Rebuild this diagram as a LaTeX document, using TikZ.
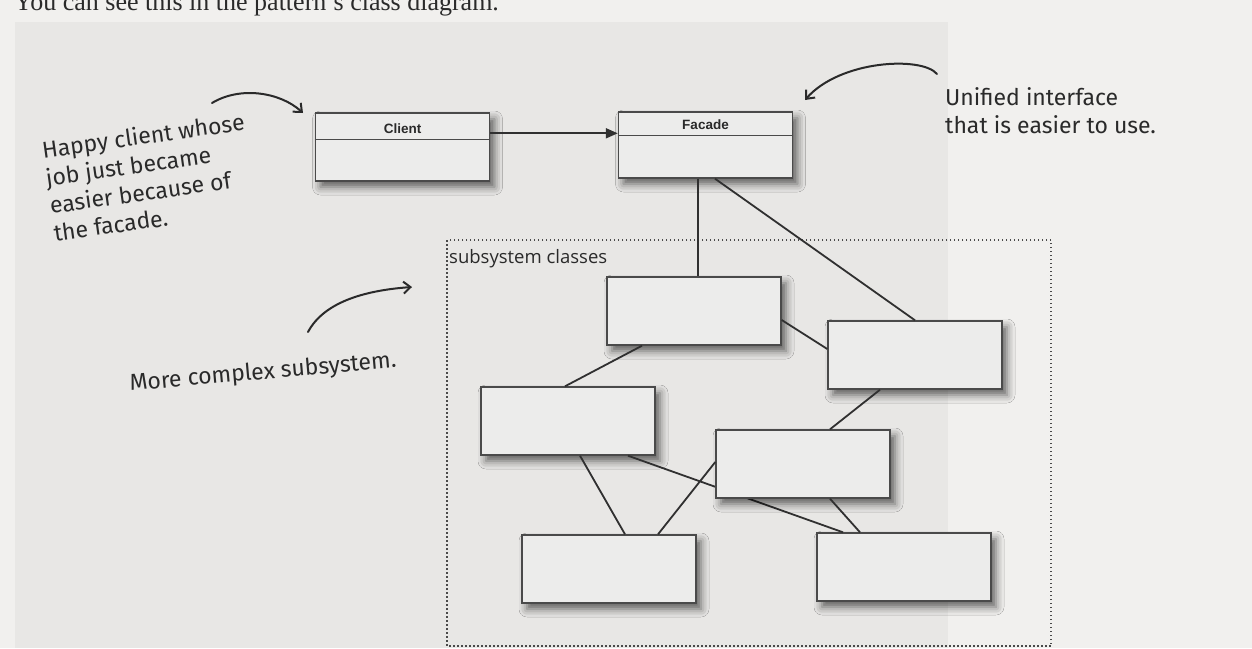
\documentclass[tikz,border=0pt]{standalone}
\usepackage{fontspec}
\setmainfont{Liberation Serif}
\newfontfamily\hand{Fira Sans}
\newfontfamily\umlsans{Liberation Sans}
\newfontfamily\subsans{Open Sans}
\usetikzlibrary{arrows.meta,shadows.blur,calc}
\definecolor{page}{HTML}{F1F0EE}
\definecolor{panel}{HTML}{E8E7E5}
\definecolor{boxfill}{HTML}{ECECEB}
\definecolor{boxline}{HTML}{4A4A4A}
\definecolor{connc}{HTML}{303030}
\definecolor{ink}{HTML}{2A2A2A}
\begin{document}
\begin{tikzpicture}[x=1pt,y=-1pt,
  classbox/.style={draw=boxline, line width=1.4pt, fill=boxfill, minimum width=174pt, minimum height=68pt, inner sep=0pt,
    blur shadow={shadow xshift=5pt, shadow yshift=-6pt, shadow blur radius=8pt, shadow opacity=60}},
  classname/.style={font=\umlsans\bfseries\fontsize{13.5}{15}\selectfont, text=ink, inner sep=0pt},
  conn/.style={draw=connc, line width=1.8pt},
  note/.style={font=\hand\fontsize{23}{28}\selectfont, text=ink, align=left, inner sep=0pt},
  notearrow/.style={draw=ink, line width=2pt, line cap=round, -{Straight Barb[length=7pt,width=12pt,line width=2pt]}}
]
\useasboundingbox (0,0) rectangle (1252,648);
\fill[page] (0,0) rectangle (1252,648);
\fill[panel] (15,22) rectangle (948,648);
\begin{scope}
  \clip (0,0) rectangle (1252,648);
  \node[anchor=base west, inner sep=0pt, font=\fontsize{26}{28}\selectfont, text=ink] (topline) at (14,10) {You can see this in the pattern's class diagram.};
\end{scope}
\draw[boxline, line width=1.3pt, dash pattern=on 1.5pt off 2.5pt] (447,240) rectangle (1051,646);
\node[anchor=base west, inner sep=0pt, font=\subsans\fontsize{18.5}{20}\selectfont, text=ink] (subtitle) at (449,263) {subsystem classes};

% class boxes
\node[classbox] (client) at (402.5,147) {};
\draw[boxline, line width=1.4pt] ([yshift=-27pt]client.north west) -- ([yshift=-27pt]client.north east);
\node[classname] (clientname) at ([yshift=-16pt]client.north) {Client};

\node[classbox, minimum height=66pt] (facade) at (705.5,145) {};
\draw[boxline, line width=1.4pt] ([yshift=-24pt]facade.north west) -- ([yshift=-24pt]facade.north east);
\node[classname] (facadename) at ([yshift=-13pt]facade.north) {Facade};

\draw[connc, line width=1.8pt, -{Triangle[length=12pt,width=10pt]}] ([yshift=-21pt]client.north east) -- ([yshift=-22pt]facade.north west);

% subsystem boxes
\node[classbox] (A) at (694,311) {};
\node[classbox] (B) at (915,355) {};
\node[classbox] (C) at (568,421) {};
\node[classbox] (E) at (609,569) {};
\node[classbox] (F) at (904,567) {};
% this connector passes behind D
\draw[conn] ([xshift=60pt]C.south) -- ([xshift=-61pt]F.north);
\node[classbox] (D) at (803,464) {};

\draw[conn] ([xshift=-7.5pt]facade.south) -- ([xshift=4pt]A.north);
\draw[conn] ([xshift=9.5pt]facade.south) -- (B.north);
\draw[conn] ([yshift=-9pt]A.east) -- ([yshift=6pt]B.west);
\draw[conn] ([xshift=-52pt]A.south) -- ([xshift=-3pt]C.north);
\draw[conn] ([xshift=-35pt]B.south) -- ([xshift=27pt]D.north);
\draw[conn] ([xshift=12pt]C.south) -- ([xshift=16pt]E.north);
\draw[conn] ([xshift=49pt]E.north) -- ([yshift=2pt]D.west);
\draw[conn] ([xshift=27pt]D.south) -- ([xshift=-44pt]F.north);

% annotations
\node[note, rotate=8] (happy) at (149,177) {Happy client whose\\job just became\\easier because of\\the facade.};
\node[note, anchor=north west] (unified) at (945,87) {Unified interface\\that is easier to use.};
\node[note, rotate=5] (complex) at (263,373) {More complex subsystem.};

\coordinate (a1s) at (212,103);
\coordinate (a1e) at (303,113);
\draw[notearrow] (a1s) .. controls (240,86) and (280,92) .. (a1e);
\coordinate (a2s) at (937,74);
\coordinate (a2e) at (805,100);
\draw[notearrow] (a2s) .. controls (922,56) and (840,60) .. (a2e);
\coordinate (a3s) at (308,332);
\coordinate (a3e) at (412,287);
\draw[notearrow] (a3s) .. controls (325,300) and (370,290) .. (a3e);
\end{tikzpicture}
\end{document}
